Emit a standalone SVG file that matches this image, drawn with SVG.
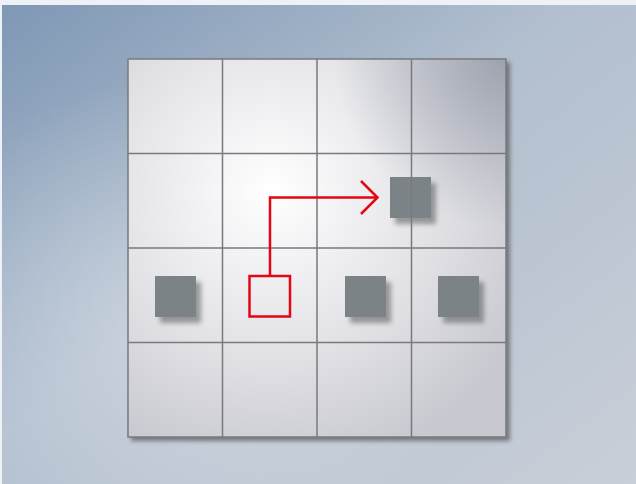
<svg xmlns="http://www.w3.org/2000/svg" width="636" height="484" viewBox="0 0 636 484">
<defs>
<linearGradient id="bg" x1="0" y1="0" x2="1" y2="1">
<stop offset="0" stop-color="#7f98b5"/>
<stop offset="0.45" stop-color="#b2bfcf"/>
<stop offset="1" stop-color="#c9cfd8"/>
</linearGradient>
<radialGradient id="bgglow" cx="0.3" cy="0.65" r="0.5">
<stop offset="0" stop-color="#ffffff" stop-opacity="0.35"/>
<stop offset="1" stop-color="#ffffff" stop-opacity="0"/>
</radialGradient>
<radialGradient id="panel" cx="0.38" cy="0.35" r="0.75">
<stop offset="0" stop-color="#ffffff"/>
<stop offset="0.5" stop-color="#e6e6ea"/>
<stop offset="1" stop-color="#c8c9d0"/>
</radialGradient>
<radialGradient id="tr" cx="1" cy="0" r="0.45">
<stop offset="0" stop-color="#8e95a3" stop-opacity="0.75"/>
<stop offset="1" stop-color="#8e95a3" stop-opacity="0"/>
</radialGradient>
<linearGradient id="redfill" x1="0" y1="0" x2="1" y2="0">
<stop offset="0" stop-color="#eef0f3"/>
<stop offset="1" stop-color="#d4d8df"/>
</linearGradient>
<filter id="sh" x="-20%" y="-20%" width="150%" height="150%">
<feGaussianBlur stdDeviation="2.5"/>
</filter>
<filter id="psh" x="-5%" y="-5%" width="115%" height="115%">
<feGaussianBlur stdDeviation="2"/>
</filter>
<style>
.grid{stroke:#7a7a7e;stroke-width:1.5;fill:none}
.blk{fill:#7b8386}
.bsh{fill:#555;opacity:0.55;filter:url(#sh)}
.red{stroke:#e30613;stroke-width:2.5;fill:none}
</style>
</defs>
<rect width="636" height="484" fill="#eef1f5"/>
<rect x="2" y="5" width="634" height="479" fill="url(#bg)"/>
<rect x="2" y="5" width="634" height="479" fill="url(#bgglow)"/>
<g id="panel">
<rect x="131" y="62" width="379" height="379" fill="#555" opacity="0.7" filter="url(#psh)"/>
<rect x="128" y="59" width="378" height="378" fill="url(#panel)"/>
<rect x="128" y="59" width="378" height="378" fill="url(#tr)"/>
</g>
<g id="blocks">
<g id="b1"><rect x="160" y="282" width="41" height="41" class="bsh"/><rect x="155" y="276" width="41" height="41" class="blk"/></g>
<g id="b2"><rect x="350" y="282" width="41" height="41" class="bsh"/><rect x="345" y="276" width="41" height="41" class="blk"/></g>
<g id="b3"><rect x="443" y="282" width="41" height="41" class="bsh"/><rect x="438" y="276" width="41" height="41" class="blk"/></g>
<g id="b4"><rect x="395" y="183" width="41" height="41" class="bsh"/><rect x="390" y="177" width="41" height="41" class="blk"/></g>
</g>
<g id="grid">
<rect x="128" y="59" width="378" height="378" class="grid"/>
<path class="grid" d="M222.5 59V437M317 59V437M411.5 59V437M128 153.5H506M128 248H506M128 342.5H506"/>
</g>
<g id="moved">
<rect x="249.5" y="276" width="40.5" height="40.5" fill="url(#redfill)" class="red"/>
</g>
<g id="connectors">
<path class="red" d="M270 276V197.5H377"/>
<path class="red" d="M361 181L377.5 197.5L361 214"/>
</g>
</svg>
